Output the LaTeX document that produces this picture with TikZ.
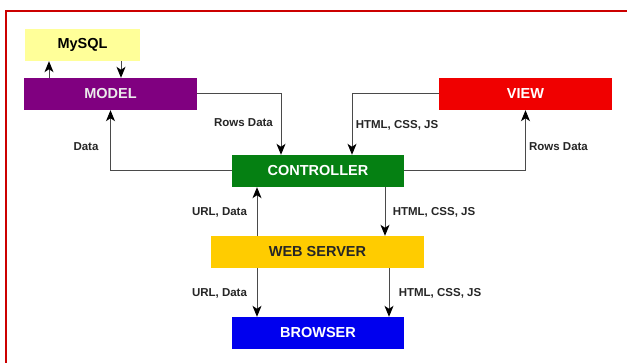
\documentclass[tikz,border=0pt]{standalone}
\usepackage{fontspec}
\setmainfont{Liberation Sans}
\usetikzlibrary{arrows.meta}
\definecolor{frame}{HTML}{CC0000}
\definecolor{mysqlc}{HTML}{FFFF99}
\definecolor{modelc}{HTML}{800080}
\definecolor{viewc}{HTML}{F00000}
\definecolor{ctrlc}{HTML}{058012}
\definecolor{webc}{HTML}{FFCC00}
\definecolor{browc}{HTML}{0000EE}
\definecolor{linec}{HTML}{4A4A4A}
\tikzset{
  box/.style={rectangle, minimum height=32pt, inner sep=0pt, font=\fontsize{14.5}{16}\selectfont\bfseries},
  lbl/.style={inner sep=0pt, font=\fontsize{11.5}{13}\selectfont\bfseries, text=black!85},
  arr/.style={draw=linec, line width=1pt, -{Stealth[black,length=11pt,width=9pt,inset=3pt]}},
}
\begin{document}
\begin{tikzpicture}[x=1pt,y=-1pt]
\useasboundingbox (0,0) rectangle (627,363);
\fill[white] (0,0) rectangle (627,363);
\draw[frame, line width=1.6pt] (627,11) -- (6,11) -- (6,363);

\node[box, fill=mysqlc, text=black, minimum width=115pt] (mysql) at (82.5,45) {MySQL};
\node[box, fill=modelc, text=white!92!black, minimum width=173pt] (model) at (110.5,94) {MODEL};
\node[box, fill=viewc, text=white, minimum width=173pt] (view) at (525.5,94) {VIEW};
\node[box, fill=ctrlc, text=white, minimum width=172pt] (ctrl) at (318,171) {CONTROLLER};
\node[box, fill=webc, text=black!85, minimum width=213pt] (web) at (317.5,252) {WEB SERVER};
\node[box, fill=browc, text=white, minimum width=172pt] (brow) at (318,333) {BROWSER};

\coordinate (x49) at (49,0);
\coordinate (x121) at (121,0);
\coordinate (x281) at (281,0);
\coordinate (x352) at (352,0);
\coordinate (x257) at (257,0);
\coordinate (x385) at (385,0);
\coordinate (x389) at (389,0);

\draw[arr] (model.north -| x49) -- (mysql.south -| x49);
\draw[arr] (mysql.south -| x121) -- (model.north -| x121);
\draw[arr] (model.east) -| (ctrl.north -| x281);
\draw[arr] (ctrl.west) -| (model.south);
\draw[arr] (view.west) -| (ctrl.north -| x352);
\draw[arr] (ctrl.east) -| (view.south);
\draw[arr] (web.north -| x257) -- (ctrl.south -| x257);
\draw[arr] (ctrl.south -| x385) -- (web.north -| x385);
\draw[arr] (web.south -| x257) -- (brow.north -| x257);
\draw[arr] (web.south -| x389) -- (brow.north -| x389);

\node[lbl] (l1) at (243.5,123) {Rows Data};
\node[lbl] (l2) at (86,147) {Data};
\node[lbl] (l3) at (397,125) {HTML, CSS, JS};
\node[lbl] (l4) at (558.5,147) {Rows Data};
\node[lbl] (l5) at (219.5,212) {URL, Data};
\node[lbl] (l6) at (434,212) {HTML, CSS, JS};
\node[lbl] (l7) at (219.5,293) {URL, Data};
\node[lbl] (l8) at (440,293) {HTML, CSS, JS};
\end{tikzpicture}
\end{document}
